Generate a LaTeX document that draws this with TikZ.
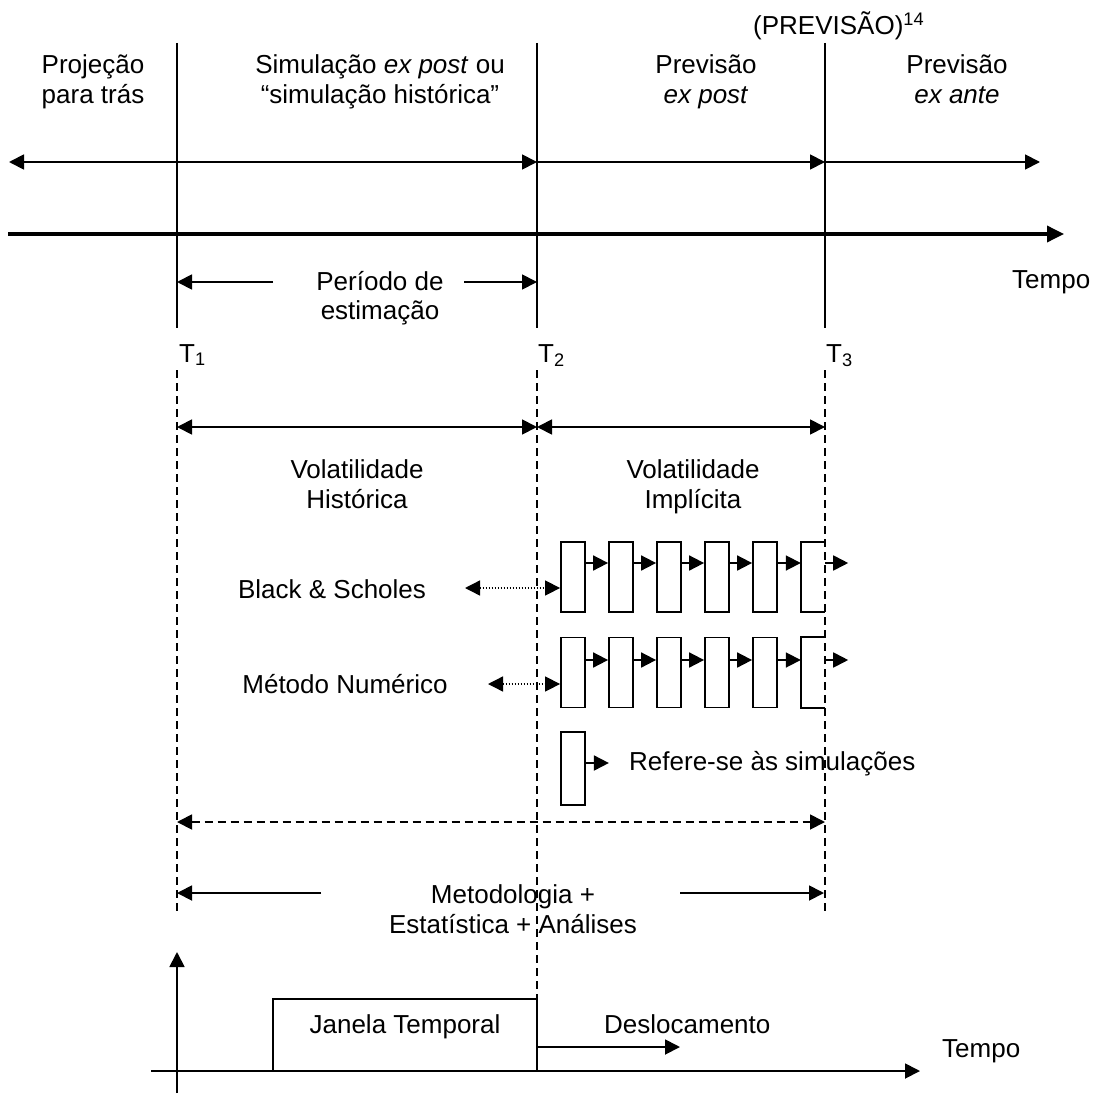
\documentclass[tikz,border=0pt]{standalone}
\usepackage{fontspec}
\setmainfont{Liberation Sans}
\usetikzlibrary{arrows.meta}
\begin{document}
\begin{tikzpicture}[x=1pt,y=-1pt,
  >={Triangle[length=15pt,width=15pt]},
  every node/.style={font=\fontsize{26}{29.5}\selectfont, inner sep=0pt},
  ln/.style={line width=1.8pt},
  axis/.style={line width=3.5pt},
  vdash/.style={line width=1.8pt, dash pattern=on 8pt off 5pt},
  dotl/.style={line width=1.4pt, dash pattern=on 1.4pt off 1.6pt},
  txt/.style={anchor=base, align=center},
  simbox/.style={draw, line width=1.8pt, minimum width=24pt, minimum height=70pt},
  openbox/.style={minimum width=24pt, minimum height=70pt},
]
\useasboundingbox (0,0) rectangle (1105,1097);

% ---------- top texts (base anchor = baseline of last line) ----------
\node[anchor=base west] (prev) at (753,35) {(PREVISÃO)\textsuperscript{14}};
\node[txt] (proj) at (93,103.5) {Projeção\\para trás};
\node[txt] (simu) at (380,103.5) {Simulação \textit{ex post} ou\\“simulação histórica”};
\node[txt] (pexp) at (706,103.5) {Previsão\\\textit{ex post}};
\node[txt] (pexa) at (957,103.5) {Previsão\\\textit{ex ante}};

% ---------- solid verticals ----------
\coordinate (v1t) at (177,43); \coordinate (v1b) at (177,328);
\coordinate (v2t) at (537,43); \coordinate (v2b) at (537,328);
\coordinate (v3t) at (825,43); \coordinate (v3b) at (825,328);
\draw[ln] (v1t) -- (v1b);
\draw[ln] (v2t) -- (v2b);
\draw[ln] (v3t) -- (v3b);

% ---------- top arrows ----------
\coordinate (a0) at (9,162);
\coordinate (a2) at (537,162);
\coordinate (a3) at (825,162);
\coordinate (a4) at (1040,162);
\draw[ln,<->] (a0) -- (a2);
\draw[ln,->] (a2) -- (a3);
\draw[ln,->] (a3) -- (a4);

% ---------- time axis ----------
\coordinate (ax0) at (8,234);
\coordinate (ax1) at (1064,234);
\draw[axis,->,>={Triangle[length=17pt,width=16pt]}] (ax0) -- (ax1);
\node[anchor=base west] (tempo1) at (1012,288) {Tempo};

% ---------- periodo de estimacao ----------
\node[txt] (per) at (380,319.5) {Período de\\estimação};
\coordinate (p1) at (273,282); \coordinate (p1e) at (177,282);
\coordinate (p2) at (464,282); \coordinate (p2e) at (537,282);
\draw[ln,->] (p1) -- (p1e);
\draw[ln,->] (p2) -- (p2e);

% ---------- T labels ----------
\node[anchor=base west] (T1) at (179,362) {T\textsubscript{1}};
\node[anchor=base west] (T2) at (538,362) {T\textsubscript{2}};
\node[anchor=base west] (T3) at (826,362) {T\textsubscript{3}};

% ---------- dashed verticals ----------
\coordinate (d1t) at (177,370); \coordinate (d1b) at (177,912);
\coordinate (d2t) at (537,370);
\coordinate (d3t) at (825,370); \coordinate (d3b) at (825,912);

% ---------- volatility arrows ----------
\coordinate (vo1) at (177,427); \coordinate (vo2) at (537,427); \coordinate (vo3) at (825,427);
\draw[ln,<->] (vo1) -- (vo2);
\draw[ln,<->] (vo2) -- (vo3);
\node[txt] (vhist) at (357,508) {Volatilidade\\Histórica};
\node[txt] (vimpl) at (693,508) {Volatilidade\\Implícita};

% ---------- simulation boxes ----------
\foreach \i/\x in {1/573,2/621,3/669,4/717,5/765}{
  \node[simbox] (r\i) at (\x,577) {};
  \node[simbox] (s\i) at (\x,672.5) {};
}
\node[openbox] (r6) at (813,577) {};
\node[openbox] (s6) at (813,672.5) {};
\draw[ln] (r6.north east) -- (r6.north west) -- (r6.south west) -- (r6.south east);
\draw[ln] (s6.north east) -- (s6.north west) -- (s6.south west) -- (s6.south east);
\foreach \i/\j in {1/2,2/3,3/4,4/5,5/6}{
  \draw[ln,->] ([yshift=14pt]r\i.east) -- ([yshift=14pt]r\j.west);
  \draw[ln,->] ([yshift=12.5pt]s\i.east) -- ([yshift=12.5pt]s\j.west);
}
\draw[ln,->] ([yshift=14pt]r6.east) -- ++(23,0);
\draw[ln,->] ([yshift=12.5pt]s6.east) -- ++(23,0);

\node[anchor=base] (bs) at (332,598) {Black \& Scholes};
\node[anchor=base] (mn) at (345,693) {Método Numérico};
\coordinate (bsa) at (465,588);
\coordinate (mna) at (488,684);
\draw[dotl,<->] (bsa) -- ([yshift=-11pt]r1.west);
\draw[dotl,<->] (mna) -- ([yshift=-11.5pt]s1.west);

% legend box
\node[simbox, minimum height=73pt] (leg) at (573,768.5) {};
\draw[ln,->] ([yshift=5.5pt]leg.east) -- ++(23,0);
\node[anchor=base west] (legt) at (629,770) {Refere-se às simulações};

% dashed verticals drawn
\draw[vdash] (d1t) -- (d1b);
\draw[vdash] (d3t) -- (d3b);

% ---------- dashed arrow ----------
\coordinate (da1) at (177,822); \coordinate (da2) at (825,822);
\draw[vdash,<->] (da1) -- (da2);

% ---------- metodologia ----------
\node[txt] (met) at (513,933) {Metodologia +\\Estatística + Análises};
\coordinate (m1) at (321,893); \coordinate (m1e) at (177,893);
\coordinate (m2) at (680,893); \coordinate (m2e) at (824,893);
\draw[ln,->] (m1) -- (m1e);
\draw[ln,->] (m2) -- (m2e);

% ---------- bottom window ----------
\coordinate (yb) at (177,1093); \coordinate (yt) at (177,952);
\coordinate (xb) at (151,1071); \coordinate (xt) at (920,1071);
\draw[ln,->] (yb) -- (yt);
\draw[ln,->] (xb) -- (xt);
\node[draw, line width=1.8pt, outer sep=0pt, minimum width=264pt, minimum height=72pt,
      text height=10pt, text depth=14pt] (jan) at (405,1035) {Janela Temporal};
\draw[vdash] (d2t) -- (d2t |- jan.north);
\coordinate (desl) at (680,1047);
\draw[ln,->] ([yshift=-12pt]jan.east) -- (desl);
\node[anchor=base west] (deslt) at (604,1033) {Deslocamento};
\node[anchor=base west] (tempo2) at (942,1057) {Tempo};
\end{tikzpicture}
\end{document}
